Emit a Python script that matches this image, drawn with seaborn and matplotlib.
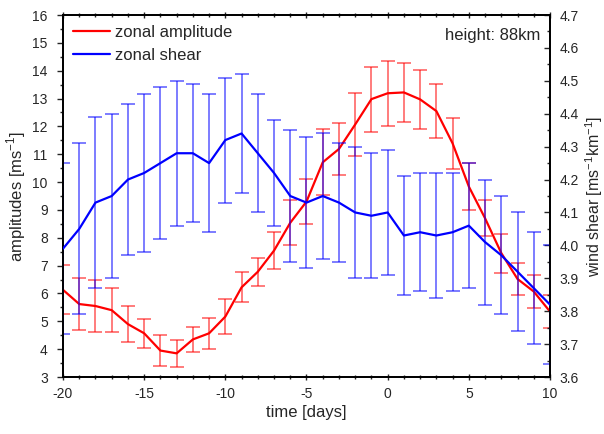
import numpy as np
import pandas as pd
import seaborn as sns
import matplotlib.pyplot as plt
from matplotlib.ticker import MultipleLocator
from matplotlib.lines import Line2D

# days relative to event
days = list(range(-20, 11))

# zonal amplitude [m/s] and its error
amp = [6.13, 5.62, 5.55, 5.40, 4.90, 4.57, 3.95, 3.85, 4.35, 4.57,
       5.17, 6.22, 6.78, 7.54, 8.54, 9.30, 10.71, 11.19, 12.07, 12.98,
       13.19, 13.22, 12.97, 12.55, 11.39, 9.84, 8.70, 7.45, 6.52, 6.07, 5.35]
amp_err = [0.88, 0.94, 0.94, 0.80, 0.64, 0.53, 0.56, 0.48, 0.45, 0.55,
           0.62, 0.54, 0.50, 0.65, 0.80, 0.80, 1.18, 0.94, 1.12, 1.17,
           1.16, 1.07, 1.05, 0.98, 0.92, 0.85, 0.65, 0.70, 0.57, 0.60, 0.60]

# zonal shear [m/s/km] and its error
shear = [3.99, 4.05, 4.13, 4.15, 4.20, 4.22, 4.25, 4.28, 4.28, 4.25,
         4.32, 4.34, 4.28, 4.22, 4.15, 4.13, 4.15, 4.13, 4.10, 4.09,
         4.10, 4.03, 4.04, 4.03, 4.04, 4.06, 4.01, 3.97, 3.92, 3.87, 3.82]
shear_err = [0.26, 0.26, 0.26, 0.25, 0.23, 0.24, 0.23, 0.22, 0.21, 0.21,
             0.19, 0.18, 0.18, 0.16, 0.20, 0.20, 0.19, 0.18, 0.20, 0.19,
             0.19, 0.18, 0.18, 0.19, 0.18, 0.19, 0.19, 0.18, 0.18, 0.17, 0.18]

df = pd.DataFrame({'day': days, 'amp': amp, 'amp_err': amp_err,
                   'shear': shear, 'shear_err': shear_err})

sns.set_style('ticks')
plt.rcParams['font.family'] = ['Liberation Sans', 'DejaVu Sans']
plt.rcParams['axes.unicode_minus'] = False

fig = plt.figure(figsize=(6.04, 4.34), dpi=100)
ax = fig.add_axes([0.1043, 0.1313, 0.8063, 0.8341])
ax2 = ax.twinx()

red = '#ff0000'
blue = '#0000ff'

# error bars (drawn first, semi-transparent)
ax.errorbar(df['day'], df['amp'], yerr=df['amp_err'], fmt='none',
            ecolor=red, elinewidth=1.2, capsize=5, capthick=1.2, alpha=0.6, zorder=1)
ax2.errorbar(df['day'], df['shear'], yerr=df['shear_err'], fmt='none',
             ecolor=blue, elinewidth=1.2, capsize=5, capthick=1.2, alpha=0.6, zorder=1)

sns.lineplot(data=df, x='day', y='amp', ax=ax, color=red, lw=1.6, zorder=3)
sns.lineplot(data=df, x='day', y='shear', ax=ax2, color=blue, lw=1.6, zorder=3)

ax.set_xlim(-20, 10)
ax.set_ylim(3, 16)
ax2.set_ylim(3.6, 4.7)

ax.xaxis.set_major_locator(MultipleLocator(5))
ax.xaxis.set_minor_locator(MultipleLocator(1))
ax.yaxis.set_major_locator(MultipleLocator(1))
ax.yaxis.set_minor_locator(MultipleLocator(0.5))
ax2.yaxis.set_major_locator(MultipleLocator(0.1))
ax2.yaxis.set_minor_locator(MultipleLocator(0.05))
ax2.yaxis.set_major_formatter(plt.FormatStrFormatter('%.1f'))

ax.tick_params(axis='both', which='major', direction='out', length=4, width=1,
               labelsize=10, pad=5)
ax.tick_params(axis='y', which='major', pad=7)
ax.tick_params(axis='both', which='minor', direction='out', length=2.5, width=1)
ax.tick_params(axis='x', which='both', top=True, direction='inout')
ax2.tick_params(axis='y', which='major', direction='in', length=4, width=1,
                labelsize=10, pad=7)
ax2.tick_params(axis='y', which='minor', direction='in', length=2.5, width=1)

for a in (ax, ax2):
    for s in a.spines.values():
        s.set_linewidth(1.3)
        s.set_color('black')
        s.set_visible(True)

ax.set_xlabel('time [days]', fontsize=12, labelpad=3)
ax.set_ylabel(r'amplitudes [ms$^{\mathregular{-1}}$]', fontsize=12, labelpad=3)
ax2.set_ylabel(r'wind shear [ms$^{\mathregular{-1}}$km$^{\mathregular{-1}}$]',
               fontsize=11.5, labelpad=3)

handles = [Line2D([], [], color=red, lw=1.6), Line2D([], [], color=blue, lw=1.6)]
ax.legend(handles, ['zonal amplitude', 'zonal shear'], loc='upper left',
          frameon=False, fontsize=12, handlelength=2.2, handletextpad=0.3,
          borderaxespad=0.2, labelspacing=0.45)
ax.text(0.98, 0.965, 'height: 88km', transform=ax.transAxes, ha='right', va='top',
        fontsize=12)

fig.savefig('out.png', dpi=100)
